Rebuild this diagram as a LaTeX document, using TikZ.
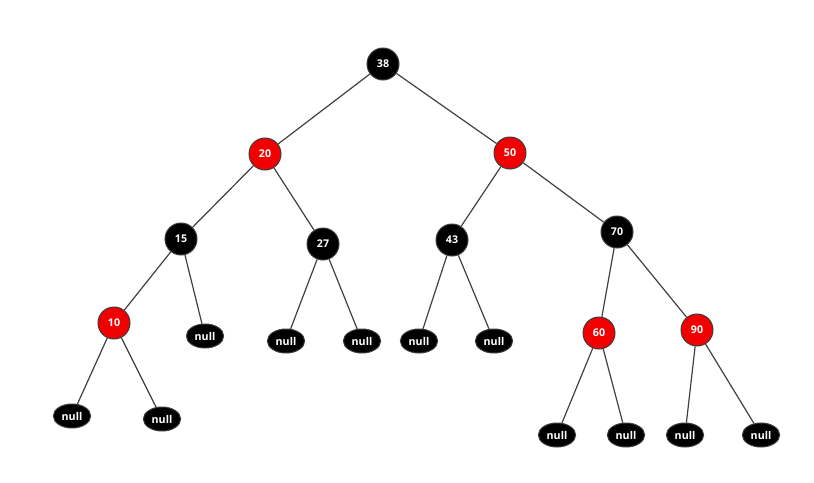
\documentclass[tikz,border=0pt]{standalone}
\usepackage{fontspec}
\setmainfont{Open Sans}
\tikzset{every picture/.style={line width=0.75pt}}
\tikzset{
  blk/.style={circle,draw={rgb,255:red,60;green,60;blue,60},fill=black,text=white,minimum size=24pt,inner sep=0pt,font=\bfseries\fontsize{8}{8}\selectfont},
  rd/.style={blk,fill={rgb,255:red,240;green,0;blue,0}},
  nil/.style={ellipse,draw={rgb,255:red,60;green,60;blue,60},fill=black,text=white,minimum width=28pt,minimum height=18pt,inner sep=0pt,font=\bfseries\fontsize{8}{8}\selectfont},
  edge/.style={draw={rgb,255:red,64;green,64;blue,64},line width=0.9pt}
}
\usetikzlibrary{shapes.geometric}
\begin{document}
\begin{tikzpicture}[x=0.75pt,y=0.75pt,yscale=-1,xscale=1]
\useasboundingbox (0,0) rectangle (814,482);

% Nodes
\node[blk] (n38) at (383,64) {38};
\node[rd] (n20) at (265,154) {20};
\node[rd] (n50) at (510,153) {50};
\node[blk] (n15) at (181,239) {15};
\node[blk] (n27) at (323,244) {27};
\node[blk] (n43) at (452,240) {43};
\node[blk] (n70) at (617,232) {70};
\node[rd] (n10) at (114,323) {10};
\node[rd] (n60) at (599,333) {60};
\node[rd] (n90) at (697,330) {90};
\node[nil] (z15) at (205,336) {null};
\node[nil] (z27a) at (286,341) {null};
\node[nil] (z27b) at (362,341) {null};
\node[nil] (z43a) at (419,341) {null};
\node[nil] (z43b) at (494,341) {null};
\node[nil] (z10a) at (72,416) {null};
\node[nil] (z10b) at (162,419) {null};
\node[nil] (z60a) at (557,435) {null};
\node[nil] (z60b) at (626,435) {null};
\node[nil] (z90a) at (685,435) {null};
\node[nil] (z90b) at (761,435) {null};

% Edges
\begin{scope}[on background layer/.style={}]
\foreach \a/\b in {n38/n20,n38/n50,n20/n15,n20/n27,n50/n43,n50/n70,n15/n10,n15/z15,n27/z27a,n27/z27b,n43/z43a,n43/z43b,n10/z10a,n10/z10b,n70/n60,n70/n90,n60/z60a,n60/z60b,n90/z90a,n90/z90b}
  \path[edge] (\a) -- (\b);
\end{scope}

\end{tikzpicture}
\end{document}
